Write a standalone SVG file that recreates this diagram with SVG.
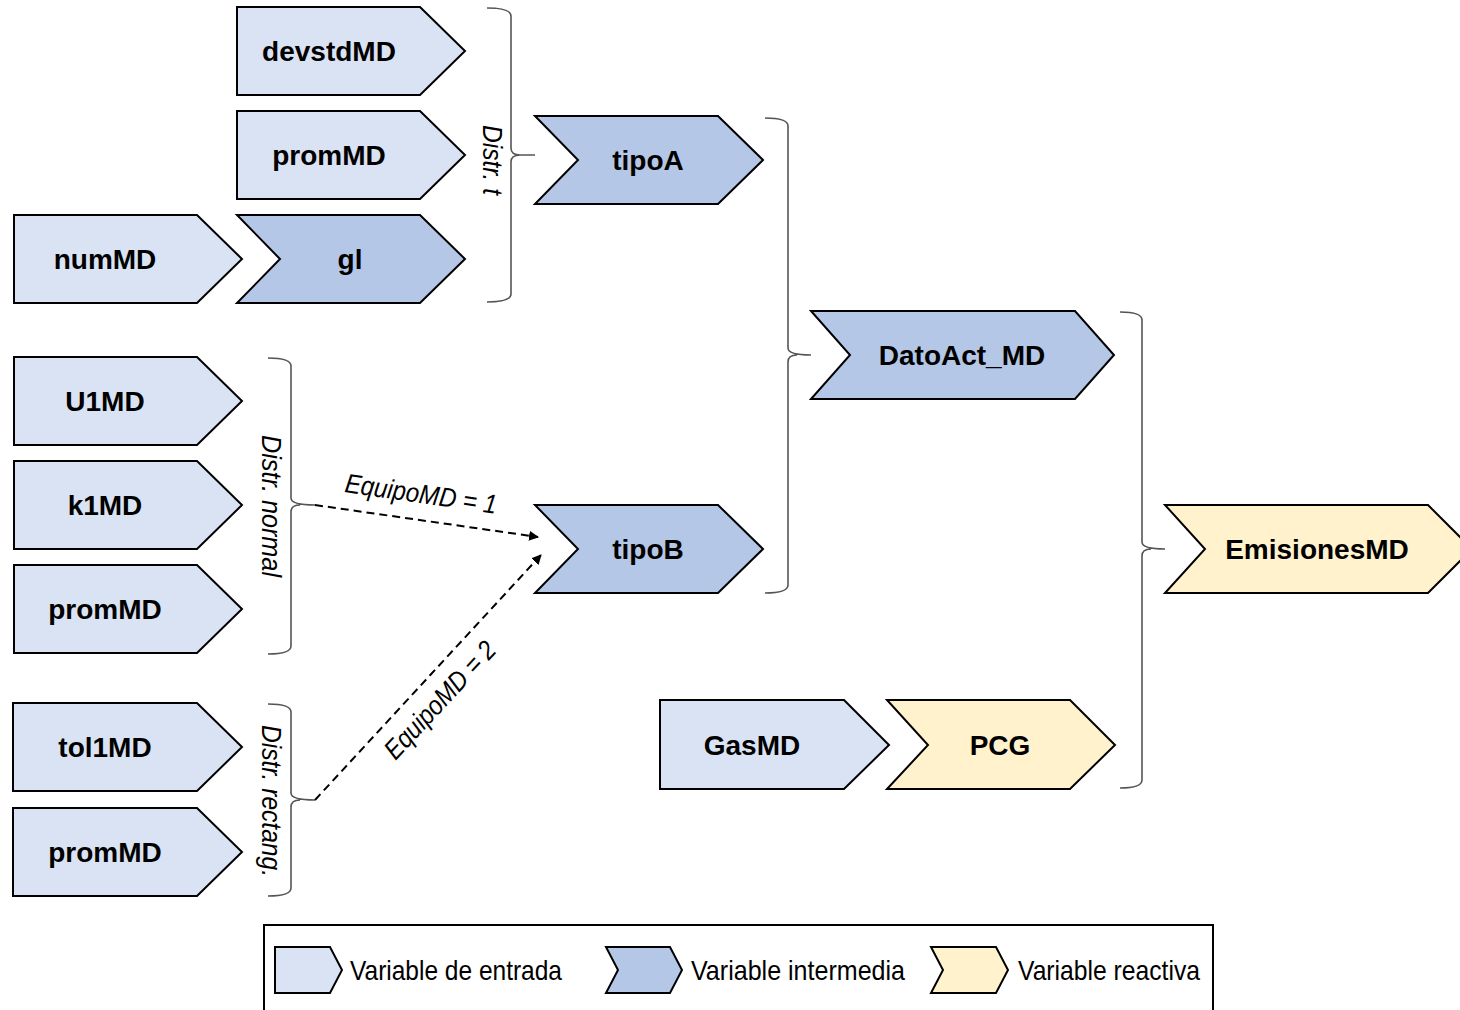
<svg xmlns="http://www.w3.org/2000/svg" width="1460" height="1010" viewBox="0 0 1460 1010">
  <style>
    .inp { fill: #dae3f3; stroke: #000; stroke-width: 2; stroke-linejoin: miter; }
    .mid { fill: #b4c7e7; stroke: #000; stroke-width: 2; stroke-linejoin: miter; }
    .rea { fill: #fff2cc; stroke: #000; stroke-width: 2; stroke-linejoin: miter; }
    .lbl { font-family: "Liberation Sans", Arial, sans-serif; font-weight: bold; font-size: 28px; fill: #000; text-anchor: middle; }
    .ital { font-family: "Liberation Sans", Arial, sans-serif; font-style: italic; font-size: 27px; fill: #000; text-anchor: middle; }
    .leg { font-family: "Liberation Sans", Arial, sans-serif; font-size: 28px; fill: #000; }
    .brace { fill: none; stroke: #555; stroke-width: 1.6; }
    .dash { fill: none; stroke: #000; stroke-width: 2; stroke-dasharray: 8 5; }
  </style>
  <defs>
    <marker id="arrow" viewBox="0 0 10 10" refX="9" refY="5" markerWidth="5" markerHeight="5" orient="auto">
      <path d="M0,0 L10,5 L0,10 z" fill="#000"/>
    </marker>
  </defs>

  <rect width="1460" height="1010" fill="#fff"/>

  <!-- connectors: braces and dashed branches -->
  <g id="connectors">
    <path class="brace" d="M487,8 Q511,8 511,16 L511,148 Q511,155 520,155 L535,155 M520,155 Q511,155 511,162 L511,294 Q511,302 487,302"/>
    <path class="brace" d="M765,118 Q788,118 788,126 L788,348 Q788,355 811,355 M797,355 Q788,355 788,362 L788,585 Q788,593 765,593"/>
    <path class="brace" d="M268,358 Q291,358 291,366 L291,498 Q291,505 315,505 M300,505 Q291,505 291,512 L291,646 Q291,654 268,654"/>
    <path class="brace" d="M268,704 Q291,704 291,712 L291,793 Q291,800 315,800 M300,800 Q291,800 291,807 L291,888 Q291,896 268,896"/>
    <path class="brace" d="M1120,312 Q1142,312 1142,320 L1142,542 Q1142,549 1165,549 M1151,549 Q1142,549 1142,556 L1142,780 Q1142,788 1120,788"/>
    <path class="dash" d="M315,505 L538,537" marker-end="url(#arrow)"/>
    <path class="dash" d="M315,800 L541,555" marker-end="url(#arrow)"/>
    <text class="ital" transform="translate(421,494) rotate(8.2)" y="9" textLength="153" lengthAdjust="spacingAndGlyphs">EquipoMD = 1</text>
    <text class="ital" transform="translate(440,700) rotate(-47)" y="9" textLength="150" lengthAdjust="spacingAndGlyphs">EquipoMD = 2</text>
    <text class="ital" transform="translate(493,160) rotate(90)" y="10" textLength="70" lengthAdjust="spacingAndGlyphs">Distr. t</text>
    <text class="ital" transform="translate(272,506) rotate(90)" y="10" textLength="142" lengthAdjust="spacingAndGlyphs">Distr. normal</text>
    <text class="ital" transform="translate(272,801) rotate(90)" y="10" textLength="152" lengthAdjust="spacingAndGlyphs">Distr. rectang.</text>
  </g>

  <!-- nodes -->
  <g id="devstdMD"><polygon class="inp" points="237,7 420,7 465,51 420,95 237,95"/><text class="lbl" x="329" y="61">devstdMD</text></g>
  <g id="promMD_t"><polygon class="inp" points="237,111 420,111 465,155 420,199 237,199"/><text class="lbl" x="329" y="165">promMD</text></g>
  <g id="numMD"><polygon class="inp" points="14,215 197,215 242,259 197,303 14,303"/><text class="lbl" x="105" y="269">numMD</text></g>
  <g id="gl"><polygon class="mid" points="237,215 420,215 465,259 420,303 237,303 280,259"/><text class="lbl" x="350" y="269">gl</text></g>
  <g id="tipoA"><polygon class="mid" points="535,116 718,116 763,160 718,204 535,204 578,160"/><text class="lbl" x="648" y="170">tipoA</text></g>
  <g id="DatoAct_MD"><polygon class="mid" points="811,311 1075,311 1114,355 1075,399 811,399 850,355"/><text class="lbl" x="962" y="365">DatoAct_MD</text></g>
  <g id="U1MD"><polygon class="inp" points="14,357 197,357 242,401 197,445 14,445"/><text class="lbl" x="105" y="411">U1MD</text></g>
  <g id="k1MD"><polygon class="inp" points="14,461 197,461 242,505 197,549 14,549"/><text class="lbl" x="105" y="515">k1MD</text></g>
  <g id="promMD_n"><polygon class="inp" points="14,565 197,565 242,609 197,653 14,653"/><text class="lbl" x="105" y="619">promMD</text></g>
  <g id="tipoB"><polygon class="mid" points="535,505 718,505 763,549 718,593 535,593 578,549"/><text class="lbl" x="648" y="559">tipoB</text></g>
  <g id="EmisionesMD"><polygon class="rea" points="1165,505 1428,505 1472,549 1428,593 1165,593 1205,549"/><text class="lbl" x="1317" y="559">EmisionesMD</text></g>
  <g id="tol1MD"><polygon class="inp" points="13,703 197,703 242,747 197,791 13,791"/><text class="lbl" x="105" y="757">tol1MD</text></g>
  <g id="promMD_r"><polygon class="inp" points="13,808 197,808 242,852 197,896 13,896"/><text class="lbl" x="105" y="862">promMD</text></g>
  <g id="GasMD"><polygon class="inp" points="660,700 844,700 889,745 844,789 660,789"/><text class="lbl" x="752" y="755">GasMD</text></g>
  <g id="PCG"><polygon class="rea" points="887,700 1070,700 1115,745 1070,789 887,789 928,745"/><text class="lbl" x="1000" y="755">PCG</text></g>

  <!-- legend -->
  <g id="legend">
    <rect x="264" y="925" width="949" height="100" fill="#fff" stroke="#000" stroke-width="2"/>
    <polygon class="inp" points="275,947 330,947 342,970 330,993 275,993"/>
    <text class="leg" x="350" y="980" textLength="212" lengthAdjust="spacingAndGlyphs">Variable de entrada</text>
    <polygon class="mid" points="606,947 670,947 682,970 670,993 606,993 618,970"/>
    <text class="leg" x="691" y="980" textLength="214" lengthAdjust="spacingAndGlyphs">Variable intermedia</text>
    <polygon class="rea" points="931,947 996,947 1008,970 996,993 931,993 943,970"/>
    <text class="leg" x="1018" y="980" textLength="182" lengthAdjust="spacingAndGlyphs">Variable reactiva</text>
  </g>
</svg>
